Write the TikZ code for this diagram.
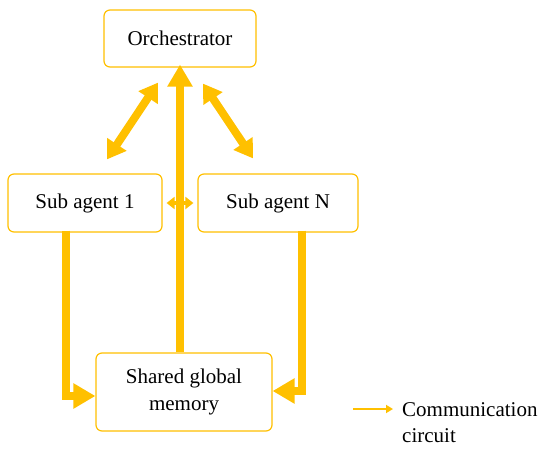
\documentclass[tikz,border=0pt]{standalone}
\usepackage{fontspec}
\setmainfont{Liberation Serif}
\usetikzlibrary{arrows.meta,calc}
\definecolor{gold}{HTML}{FFC000}
\begin{document}
\begin{tikzpicture}[x=1pt,y=-1pt,
  box/.style={draw=gold,line width=1.2pt,rounded corners=6pt,fill=white,
    font=\fontsize{21}{27}\selectfont,align=center,inner sep=0pt},
  fat/.style={draw=gold,line width=8pt,-{Triangle[width=24pt,length=22pt]}},
  fatboth/.style={draw=gold,line width=8pt,{Triangle[width=22pt,length=18pt]}-{Triangle[width=22pt,length=18pt]}},
  thinboth/.style={draw=gold,line width=4pt,{Triangle[width=12pt,length=8pt]}-{Triangle[width=12pt,length=8pt]}},
  legarrow/.style={draw=gold,line width=2.5pt,-{Triangle[width=8pt,length=7pt]}}]
\useasboundingbox (0,0) rectangle (550,450);
\node[box,minimum width=152pt,minimum height=57pt] (orch) at (180,38.5) {Orchestrator};
\node[box,minimum width=154pt,minimum height=58pt] (s1) at (85,203) {Sub agent 1};
\node[box,minimum width=160pt,minimum height=58pt] (sN) at (278,203) {Sub agent N};
\node[box,minimum width=176pt,minimum height=78pt] (mem) at (184,392) {Shared global\\memory};
% main vertical
\draw[fat] (orch.south |- mem.north) -- ([yshift=3pt]orch.south);
% diagonals
\draw[fatboth] ($(s1.north)+(22,-14)$) -- ($(orch.south)+(-22,15)$);
\draw[fatboth] ($(orch.south)+(23,16)$) -- ($(sN.north)+(-25,-15)$);
% between sub agents
\draw[thinboth] ([xshift=4pt]s1.east) -- ([xshift=-4pt]sN.west);
% down to memory
\draw[fat,line cap=butt] ($(s1.south west)+(59,-2)$) |- ([yshift=-4pt]mem.west);
\draw[fat,line cap=butt] ($(sN.south east)+(-57,-2)$) |- ([yshift=1pt]mem.east);
% legend
\coordinate (la) at (353,409);
\coordinate (lb) at (393,409);
\draw[legarrow] (la) -- (lb);
\node[anchor=west,align=left,font=\fontsize{21}{26}\selectfont,inner sep=0pt] (leg) at (402,423) {Communication\\circuit};
\end{tikzpicture}
\end{document}
